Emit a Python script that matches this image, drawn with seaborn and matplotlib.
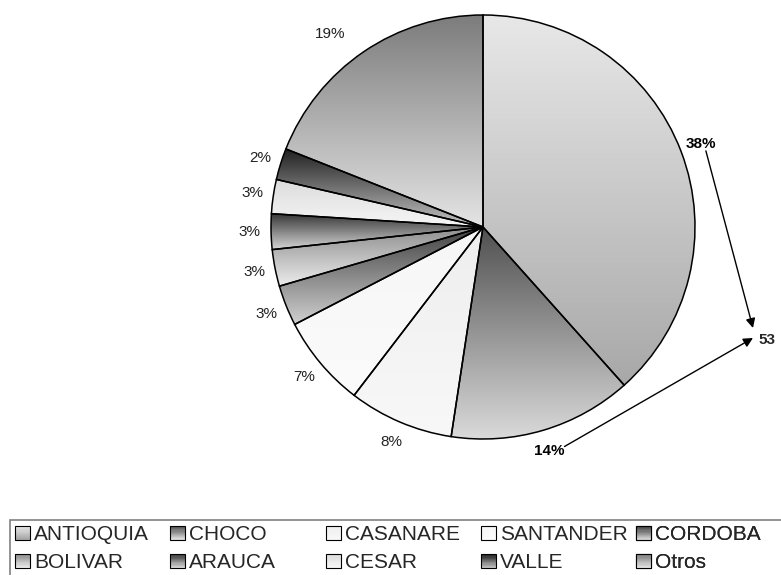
"""Pie chart by department with gradient-filled wedges (Excel style)."""
import matplotlib

matplotlib.use("Agg")
import matplotlib.pyplot as plt
import numpy as np
import seaborn as sns
from matplotlib.legend_handler import HandlerBase
from matplotlib.patches import Rectangle

departamentos = [
    "ANTIOQUIA", "CHOCO", "CASANARE", "SANTANDER", "CORDOBA",
    "BOLIVAR", "ARAUCA", "CESAR", "VALLE", "Otros",
]
porcentajes = [38.4, 14.0, 8.0, 7.0, 3.1, 2.8, 2.7, 2.6, 2.4, 19.0]
destacados = ["ANTIOQUIA", "CHOCO"]
total_destacado = 53

# gradient colours (top -> bottom) for each wedge
grad_top = ["#e8e8e8", "#505050", "#eeeeee", "#f6f6f6", "#404040",
            "#8c8c8c", "#383838", "#dcdcdc", "#1e1e1e", "#7c7c7c"]
grad_bottom = ["#a8a8a8", "#dadada", "#f8f8f8", "#fbfbfb", "#d0d0d0",
               "#ececec", "#d8d8d8", "#f6f6f6", "#c4c4c4", "#e4e4e4"]

W, H = 781, 575
CENTER = (483, H - 227)
RADIUS = 212


class GradientHandler(HandlerBase):
    def __init__(self, top, bottom):
        super().__init__()
        self.colors = sns.blend_palette([top, bottom], 12)

    def create_artists(self, legend, orig_handle, xdescent, ydescent,
                       width, height, fontsize, trans):
        n = len(self.colors)
        artists = []
        for i, c in enumerate(self.colors):
            y0 = -ydescent + height * (1 - (i + 1) / n)
            artists.append(Rectangle((-xdescent, y0), width, height / n,
                                     facecolor=c, edgecolor="none",
                                     transform=trans))
        artists.append(Rectangle((-xdescent, -ydescent), width, height,
                                 facecolor="none", edgecolor="black",
                                 linewidth=0.8, transform=trans))
        return artists


sns.set_theme(style="white")
plt.rcParams["font.family"] = ["Liberation Sans", "DejaVu Sans"]

fig = plt.figure(figsize=(W / 100, H / 100), dpi=100)
ax = fig.add_axes([0, 0, 1, 1])

wedges, _, autotexts = ax.pie(
    porcentajes,
    center=CENTER,
    radius=RADIUS,
    startangle=90,
    counterclock=False,
    autopct="%.0f%%",
    pctdistance=1.1,
    wedgeprops=dict(facecolor="none", edgecolor="black", linewidth=1.1),
    textprops=dict(fontsize=11, color="#222222"),
)

for w, top, bottom in zip(wedges, grad_top, grad_bottom):
    t = np.radians(np.linspace(w.theta1, w.theta2, 100))
    xs = np.concatenate([[CENTER[0]], CENTER[0] + RADIUS * np.cos(t)])
    ys = np.concatenate([[CENTER[1]], CENTER[1] + RADIUS * np.sin(t)])
    cmap = sns.blend_palette([top, bottom], as_cmap=True)
    img = ax.imshow(np.linspace(0, 1, 256).reshape(-1, 1), cmap=cmap,
                    extent=[xs.min(), xs.max(), ys.min(), ys.max()],
                    origin="upper", aspect="auto", interpolation="bilinear",
                    zorder=0)
    img.set_clip_path(w)
    w.set_zorder(2)

for name, txt in zip(departamentos, autotexts):
    if name in destacados:
        txt.set_fontweight("bold")
        txt.set_color("black")

# Excel pushes the "Otros" label a bit further left
x0, y0 = autotexts[-1].get_position()
autotexts[-1].set_position((x0 - 22, y0))

# arrows from the highlighted labels to the combined total
tip = (753, H - 333)
ax.text(tip[0] + 14, tip[1] - 7, str(total_destacado), fontsize=11,
        fontweight="bold", ha="center", va="center")
for name, dy, off in zip(destacados, [5, -5], [(5, -7), (15, 4)]):
    pos = autotexts[departamentos.index(name)].get_position()
    ax.annotate("", xy=(tip[0], tip[1] + dy),
                xytext=(pos[0] + off[0], pos[1] + off[1]),
                arrowprops=dict(arrowstyle="-|>", color="black", lw=1,
                                mutation_scale=14, shrinkA=0, shrinkB=0))

ax.set_xlim(0, W)
ax.set_ylim(0, H)
ax.set_aspect("equal")
ax.axis("off")

# legend: 5 equal-width columns, two rows
col_x = [15, 170, 326, 481, 636]
handler_map = {w: GradientHandler(t, b)
               for w, t, b in zip(wedges, grad_top, grad_bottom)}
for c, x in enumerate(col_x):
    idx = [c, c + 5]
    leg = ax.legend([wedges[i] for i in idx], [departamentos[i] for i in idx],
                    handler_map=handler_map, loc="upper left",
                    bbox_to_anchor=(x, H - 525), bbox_transform=ax.transData,
                    frameon=False, borderpad=0, borderaxespad=0,
                    fontsize=15, handlelength=0.7, handleheight=0.65,
                    handletextpad=0.2, labelspacing=0.45)
    ax.add_artist(leg)
ax.add_patch(Rectangle((10, -20), W, H - 520 + 20, facecolor="none",
                       edgecolor="#808080", linewidth=1.2, clip_on=False))

fig.savefig("out.png", dpi=100)
